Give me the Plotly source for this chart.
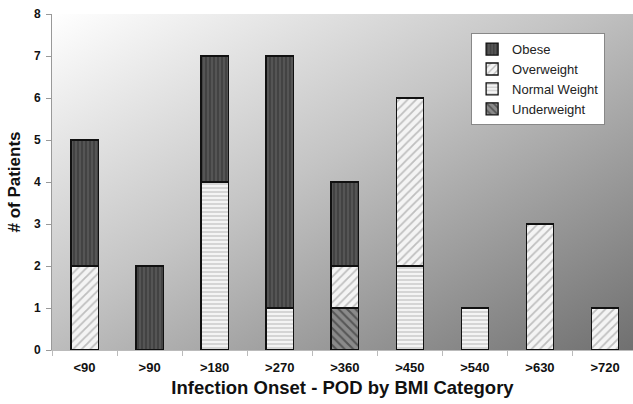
import base64
import plotly.graph_objects as go

categories = ["<90", ">90", ">180", ">270", ">360", ">450", ">540", ">630", ">720"]
underweight = [0, 0, 0, 0, 1, 0, 0, 0, 0]
normal_weight = [0, 0, 4, 1, 0, 2, 1, 0, 0]
overweight = [2, 0, 0, 0, 1, 4, 0, 3, 1]
obese = [3, 2, 3, 6, 2, 0, 0, 0, 0]

FONT = "Liberation Sans, Arial, sans-serif"

# diagonal grey gradient for the plotting area
svg = (
    '<svg xmlns="http://www.w3.org/2000/svg" width="100" height="100" preserveAspectRatio="none">'
    '<defs><linearGradient id="g" x1="0" y1="0" x2="1" y2="1">'
    '<stop offset="0" stop-color="#ffffff"/>'
    '<stop offset="0.45" stop-color="#c4c4c4"/>'
    '<stop offset="1" stop-color="#707070"/>'
    '</linearGradient></defs>'
    '<rect width="100" height="100" fill="url(#g)"/></svg>'
)
bg_src = "data:image/svg+xml;base64," + base64.b64encode(svg.encode()).decode()

series = [
    ("Underweight", underweight, dict(shape="\\", bgcolor="#8a8a8a", fgcolor="#222222", size=6, solidity=0.35)),
    ("Normal Weight", normal_weight, dict(shape="-", bgcolor="#f4f4f4", fgcolor="#9a9a9a", size=4, solidity=0.35)),
    ("Overweight", overweight, dict(shape="/", bgcolor="#f4f4f4", fgcolor="#8a8a8a", size=6, solidity=0.3)),
    ("Obese", obese, dict(shape="|", bgcolor="#555555", fgcolor="#222222", size=4, solidity=0.35)),
]

fig = go.Figure()
for name, vals, pat in series:
    fig.add_trace(go.Bar(
        x=categories, y=vals, name=name,
        marker=dict(color=pat["bgcolor"], pattern=dict(fillmode="overlay", **pat),
                    line=dict(color="#111111", width=1.3)),
        width=0.42,
    ))

fig.update_layout(
    width=633, height=404,
    margin=dict(l=52, r=0, t=14, b=54),
    barmode="stack",
    paper_bgcolor="white",
    plot_bgcolor="rgba(0,0,0,0)",
    font=dict(family=FONT, color="#111111"),
    images=[dict(source=bg_src, xref="paper", yref="paper", x=0, y=1,
                 sizex=1, sizey=1, sizing="stretch", layer="below",
                 xanchor="left", yanchor="top")],
    legend=dict(
        x=0.952, y=0.943, xanchor="right", yanchor="top",
        bgcolor="white", bordercolor="#888888", borderwidth=1,
        traceorder="reversed", font=dict(family=FONT, size=13, color="#222222"),
        itemwidth=30, tracegroupgap=0,
    ),
    showlegend=True,
)
fig.update_xaxes(
    range=[-0.5, 8.43], showgrid=False,
    showline=True, linecolor="#bbbbbb", linewidth=1,
    ticks="outside", tickson="boundaries", ticklen=5, tickcolor="#bbbbbb",
    tickfont=dict(family=FONT, size=13, color="#111111"),
    ticklabelstandoff=5,
    tickprefix="<b>", ticksuffix="</b>",
    title=dict(text="<b>Infection Onset - POD by BMI Category</b>",
               font=dict(family=FONT, size=18.5, color="#111111"), standoff=7),
)
fig.update_yaxes(
    range=[0, 8], dtick=1, showgrid=False, zeroline=False,
    showline=True, linecolor="#999999", linewidth=1,
    ticks="outside", ticklen=5, tickcolor="#999999",
    tickfont=dict(family=FONT, size=12, color="#111111"),
    ticklabelstandoff=3,
    tickprefix="<b>", ticksuffix="</b>",
    title=dict(text="<b># of Patients</b>",
               font=dict(family=FONT, size=17, color="#111111"), standoff=8),
)

fig.write_html("out.html")
